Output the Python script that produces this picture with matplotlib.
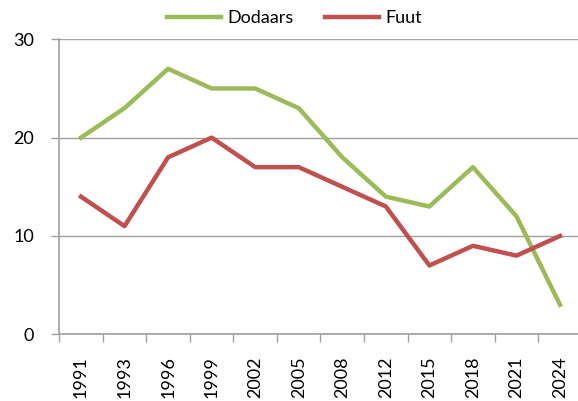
import matplotlib
matplotlib.use("Agg")
import matplotlib.pyplot as plt
import numpy as np

plt.rcParams["font.family"] = ["Lato", "DejaVu Sans"]

years = ["1991", "1993", "1996", "1999", "2002", "2005", "2008", "2012", "2015", "2018", "2021", "2024"]
dodaars = [20, 23, 27, 25, 25, 23, 18, 14, 13, 17, 12, 3]
fuut = [14, 11, 18, 20, 17, 17, 15, 13, 7, 9, 8, 10]

green = "#9BBB59"
red = "#C0504D"
grey = "#A0A0A0"

fig = plt.figure(figsize=(5.78, 4.01), dpi=100)
ax = fig.add_axes([59.2 / 578, 0.1663, (12 * 43.55) / 578, 0.902 - 0.1663])

x = np.arange(len(years))
ax.plot(x, dodaars, color=green, lw=3.2, label="Dodaars", solid_joinstyle="round")
ax.plot(x, fuut, color=red, lw=3.2, label="Fuut", solid_joinstyle="round")

ax.set_xlim(-0.5, len(years) - 0.5)
ax.set_ylim(0, 30)
ax.set_yticks([0, 10, 20, 30])
ax.yaxis.grid(True, color=grey, lw=1)
ax.set_axisbelow(True)

ax.set_xticks(x)
ax.set_xticklabels(years, rotation=90, fontsize=13)
ax.set_xticks(np.arange(len(years)) - 0.5, minor=True)
ax.tick_params(axis="x", which="major", length=0, pad=16)
ax.tick_params(axis="x", which="minor", length=6, color=grey, width=1)
ax.tick_params(axis="y", length=6, color=grey, width=1, labelsize=13, pad=12)

for s in ["top", "right"]:
    ax.spines[s].set_visible(False)
for s in ["left", "bottom"]:
    ax.spines[s].set_color(grey)
    ax.spines[s].set_linewidth(1.2)

fig.legend(loc="upper center", bbox_to_anchor=(0.5095, 1.015), ncol=2, frameon=False,
           fontsize=13, handlelength=3.0, columnspacing=1.75, handletextpad=0.35)

fig.savefig("out.png", dpi=100)
